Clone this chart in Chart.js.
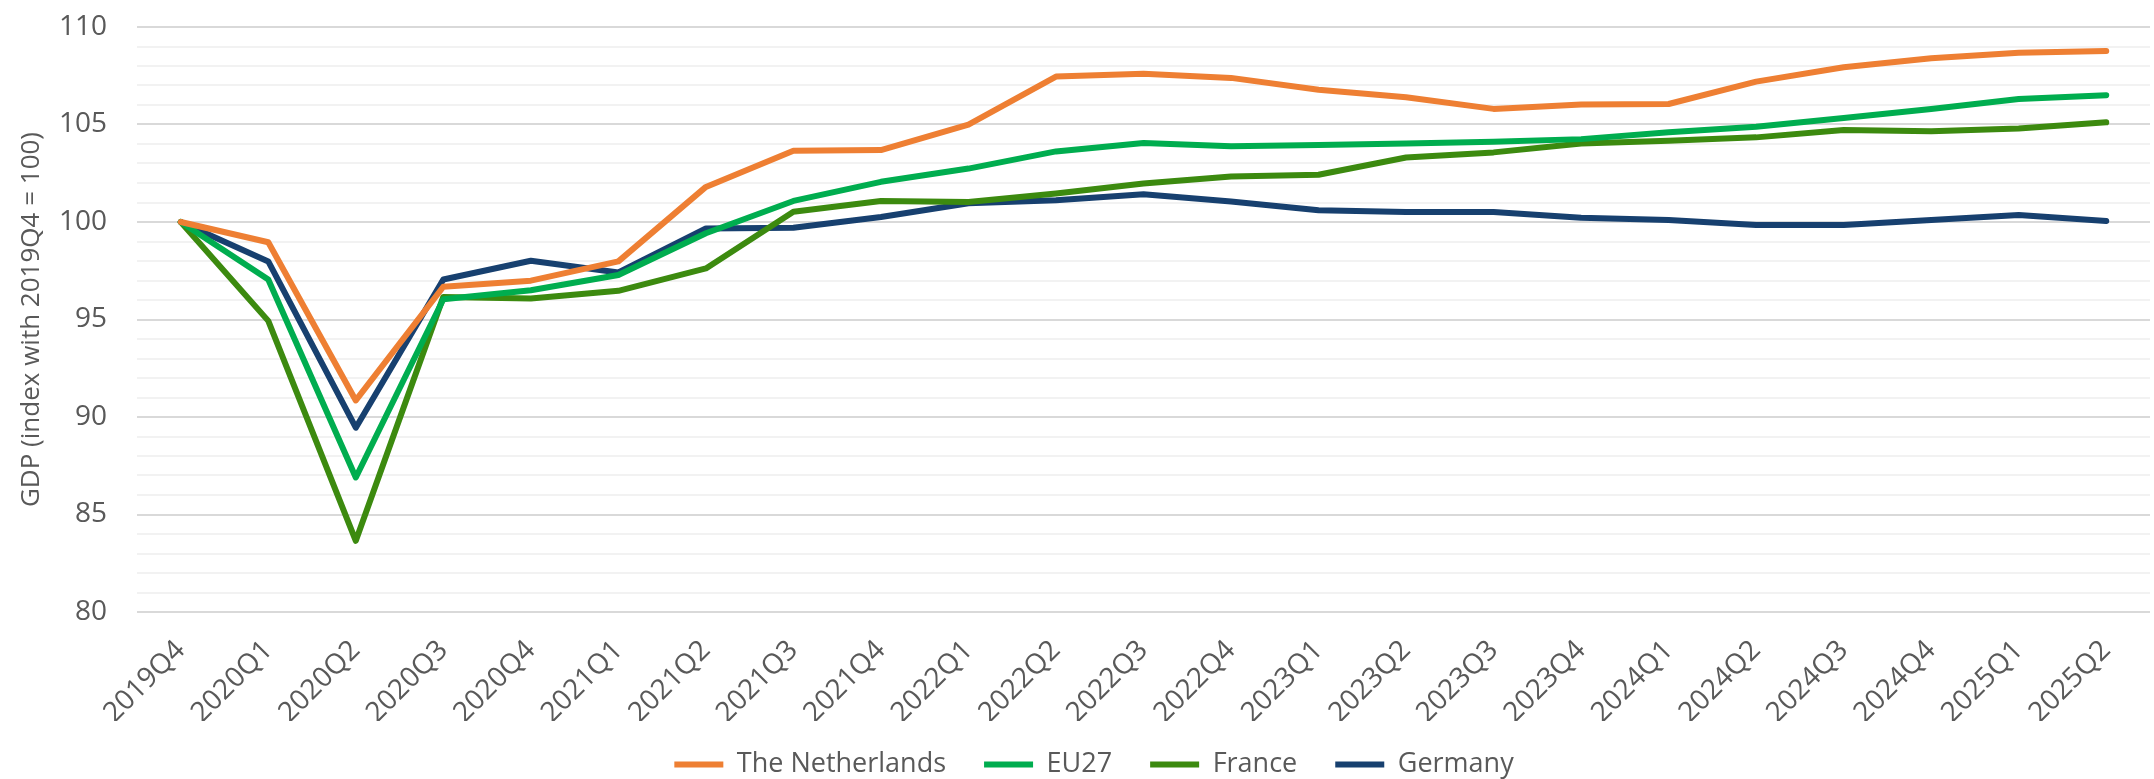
<!DOCTYPE html>
<html>
<head>
<meta charset="utf-8">
<script src="https://cdn.jsdelivr.net/npm/chart.js@4/dist/chart.umd.min.js"></script>
<style>
  html, body { margin: 0; padding: 0; background: #ffffff; }
  #wrap { width: 2154px; height: 779px; position: relative; }
</style>
</head>
<body>
<div id="wrap"><canvas id="c" width="2154" height="779"></canvas></div>
<script>
const quarters = ["2019Q4","2020Q1","2020Q2","2020Q3","2020Q4","2021Q1","2021Q2","2021Q3","2021Q4",
  "2022Q1","2022Q2","2022Q3","2022Q4","2023Q1","2023Q2","2023Q3","2023Q4",
  "2024Q1","2024Q2","2024Q3","2024Q4","2025Q1","2025Q2"];
const netherlands = [100, 98.96, 90.85, 96.68, 96.99, 97.98, 101.8, 103.65, 103.69, 104.99, 107.46, 107.6, 107.39, 106.78, 106.4, 105.8, 106.02, 106.05, 107.2, 107.94, 108.4, 108.68, 108.77];
const eu27 = [100, 97.05, 86.9, 96.04, 96.5, 97.28, 99.42, 101.08, 102.06, 102.74, 103.62, 104.05, 103.88, 103.95, 104.03, 104.12, 104.25, 104.6, 104.89, 105.33, 105.8, 106.31, 106.5];
const france = [100, 94.93, 83.65, 96.16, 96.08, 96.47, 97.62, 100.53, 101.08, 101.03, 101.46, 101.97, 102.33, 102.42, 103.31, 103.57, 104.03, 104.17, 104.34, 104.72, 104.65, 104.8, 105.11];
const germany = [100, 97.98, 89.45, 97.05, 98.01, 97.41, 99.67, 99.71, 100.26, 100.96, 101.12, 101.42, 101.05, 100.6, 100.51, 100.51, 100.22, 100.1, 99.85, 99.85, 100.1, 100.36, 100.05];
const seriesNames = ["The Netherlands", "EU27", "France", "Germany"];
const seriesColors = ["#EE7F33", "#00AD4F", "#3C8A0F", "#17406F"];
const yTitle = "GDP (index with 2019Q4 = 100)";

const FONT = "'Open Sans', 'DejaVu Sans', sans-serif";
const TXT = "#595959";

function ds(name, data, color) {
  return {
    label: name, data: data, borderColor: color, backgroundColor: color,
    borderWidth: 6, pointRadius: 0, pointHoverRadius: 0, tension: 0,
    borderCapStyle: 'round', borderJoinStyle: 'round', fill: false
  };
}

// place the legend a little right of centre and at a fixed height, as in the reference
const legendPlace = {
  id: 'legendPlace',
  afterLayout(chart) {
    const lg = chart.legend;
    if (!lg) return;
    const h = lg.bottom - lg.top;
    lg.left += 19; lg.right += 19;
    lg.top = 713; lg.bottom = 713 + h;
  }
};

new Chart(document.getElementById('c'), {
  type: 'line',
  data: {
    labels: quarters,
    datasets: [
      ds(seriesNames[0], netherlands, seriesColors[0]),
      ds(seriesNames[1], eu27, seriesColors[1]),
      ds(seriesNames[2], france, seriesColors[2]),
      ds(seriesNames[3], germany, seriesColors[3])
    ]
  },
  plugins: [legendPlace],
  options: {
    responsive: false,
    animation: false,
    events: [],
    layout: { padding: { top: 27, right: 4, left: 0, bottom: -17 } },
    plugins: {
      tooltip: { enabled: false },
      legend: {
        position: 'bottom',
        labels: {
          usePointStyle: true, pointStyle: 'line', pointStyleWidth: 49,
          boxWidth: 49, boxHeight: 20,
          color: TXT, padding: 38,
          font: { family: FONT, size: 27 }
        }
      }
    },
    scales: {
      x: {
        offset: true,
        grid: { display: false, drawTicks: false },
        border: { display: false },
        ticks: {
          color: TXT, autoSkip: false, minRotation: 45, maxRotation: 45,
          padding: 22, font: { family: FONT, size: 28 }
        },
        afterFit: s => { s.height = 109; }
      },
      y: {
        min: 80, max: 110,
        border: { display: false },
        grid: {
          drawTicks: true, tickLength: 26, tickColor: 'rgba(0,0,0,0)', lineWidth: 2,
          color: c => (c.tick && c.tick.value % 5 === 0) ? '#D9D9D9' : '#F2F2F2'
        },
        ticks: {
          stepSize: 1, autoSkip: false, color: TXT, padding: 4,
          font: { family: FONT, size: 28 },
          callback: v => (v % 5 === 0 ? String(v) : '')
        },
        title: {
          display: true, text: yTitle, color: TXT,
          font: { family: FONT, size: 26 },
          padding: { top: 16, bottom: 0 }
        },
        afterFit: s => { s.width = 137; }
      }
    }
  }
});
</script>
</body>
</html>
